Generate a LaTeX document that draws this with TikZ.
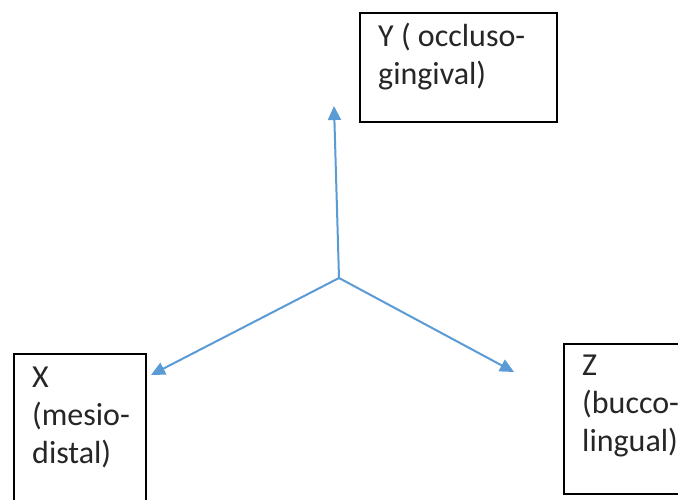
\documentclass[tikz,border=0pt]{standalone}
\usepackage{fontspec}
\setmainfont{Carlito}
\usetikzlibrary{arrows.meta}
\definecolor{axisblue}{HTML}{5B9BD5}
\begin{document}
\begin{tikzpicture}[x=1pt,y=1pt,
  box/.style={draw=black,line width=1.6pt,inner sep=0pt,anchor=north west},
  lbl/.style={anchor=base west,inner sep=0pt,align=left,font=\fontsize{32}{38}\selectfont,text=black!85},
  axis/.style={draw=axisblue,line width=2pt,-{Triangle[length=14pt,width=13pt]}}]
\useasboundingbox (0,0) rectangle (678,499);
\clip (0,0) rectangle (678,499);
\fill[white] (0,0) rectangle (678,499);
% boxes
\node[box,minimum width=197pt,minimum height=109pt] (ybox) at (359,487) {};
\node[box,minimum width=132pt,minimum height=160pt] (xbox) at (13,146) {};
\node[box,minimum width=130pt,minimum height=150pt] (zbox) at (563,156) {};
% labels (base anchor = baseline of last line)
\node[lbl] (ytext) at (378,414) {Y ( occluso-\\gingival)};
\node[lbl] (xtext) at (32,36) {X\\(mesio-\\distal)};
\node[lbl] (ztext) at (582,48) {Z\\(bucco-\\lingual)};
% axes
\coordinate (o) at (339,221);
\coordinate (ytip) at (334,393);
\coordinate (xtip) at (151,124);
\coordinate (ztip) at (514,127);
\draw[axis] (o) -- (ytip);
\draw[axis] (o) -- (xtip);
\draw[axis] (o) -- (ztip);
\end{tikzpicture}
\end{document}
